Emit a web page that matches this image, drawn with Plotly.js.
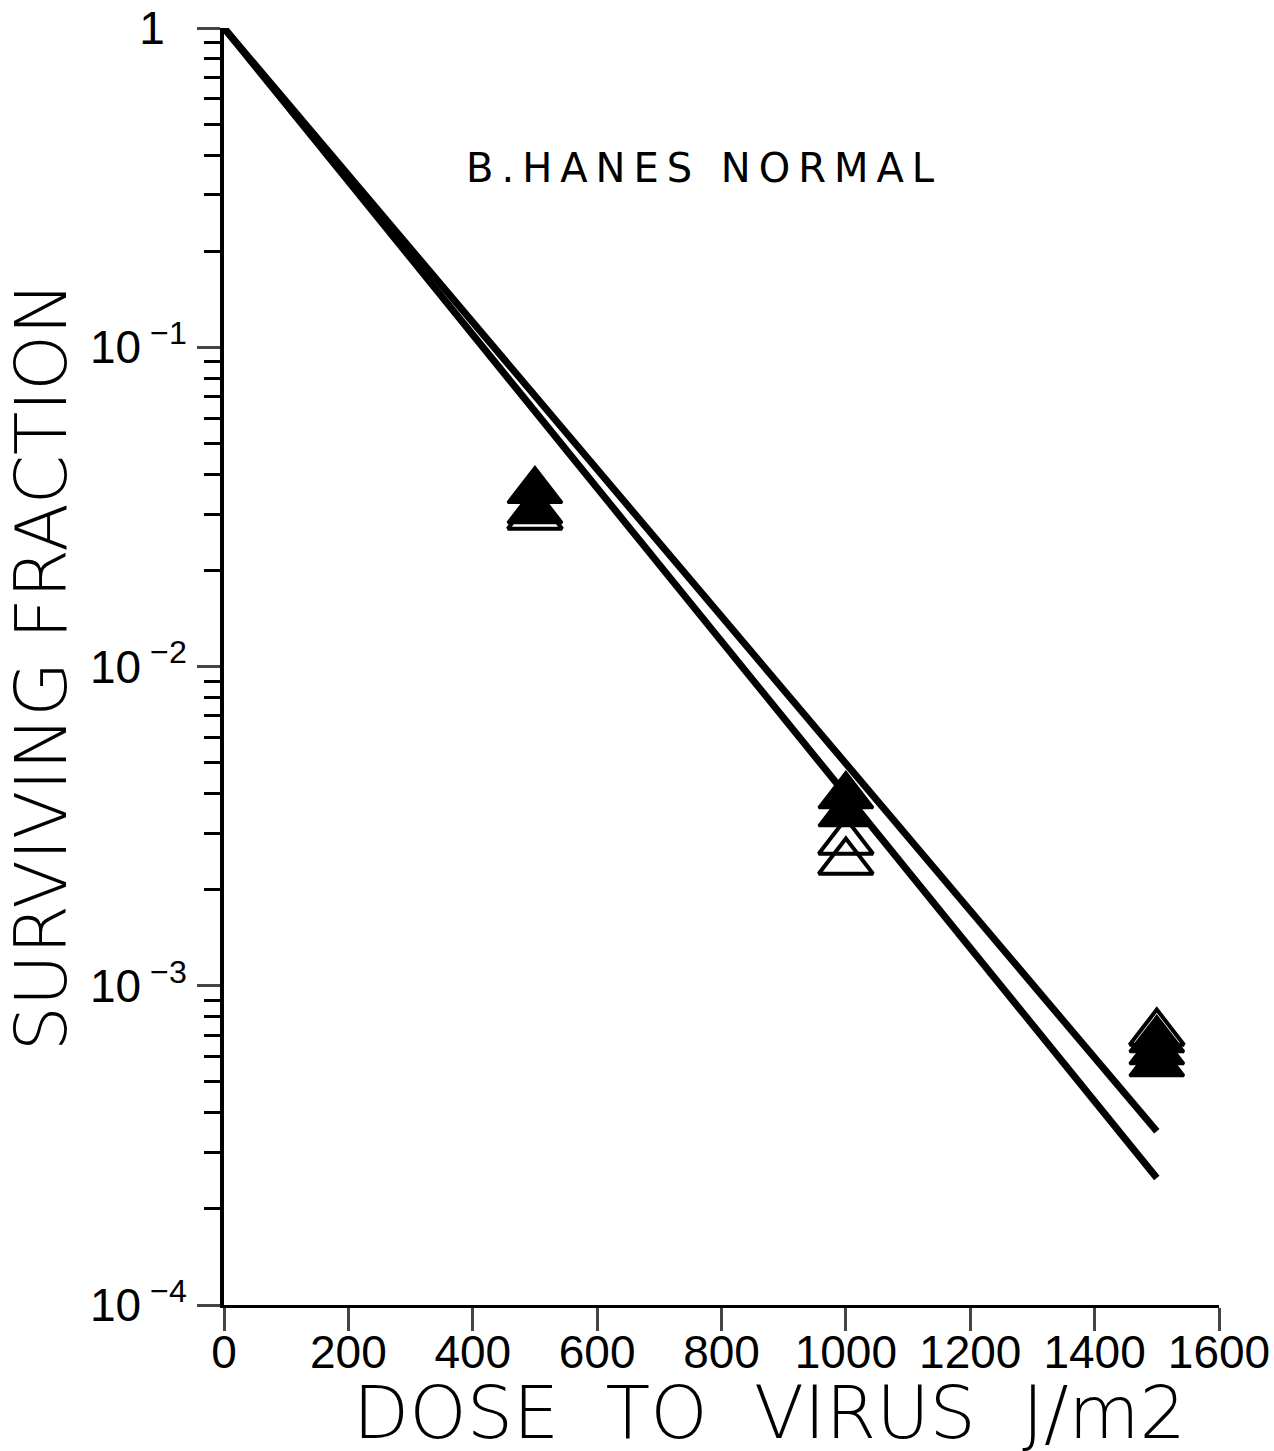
<!DOCTYPE html>
<html><head><meta charset="utf-8">
<script src="https://cdn.plot.ly/plotly-3.0.1.min.js"></script>
<style>body{margin:0;background:#fff}#chart{width:1274px;height:1451px}</style>
</head><body><div id="chart"></div>
<script>
// Fitted survival lines
const lineA_x = [0, 1500];
const lineA_y = [1, 3.5e-4];
const lineB_x = [0, 1500];
const lineB_y = [1, 2.5e-4];
// Data points (filled and open triangles)
const filled_x = [500, 500, 1000, 1000, 1500, 1500, 1500];
const filled_y = [0.0355, 0.0307, 0.00393, 0.00345, 0.000676, 0.000620, 0.000569];
const open_x = [500, 1000, 1000, 1500];
const open_y = [0.0294, 0.00282, 0.00244, 0.000711];
// Tick labels
const ytickvals = [1, 0.1, 0.01, 0.001, 0.0001];
const yticktext = ['1\u00a0\u2009', '10<sup> −1</sup>', '10<sup> −2</sup>', '10<sup> −3</sup>', '10<sup> −4</sup>'];
const xtickvals = [0, 200, 400, 600, 800, 1000, 1200, 1400, 1600];

const lineStyle = {color: '#000', width: 7};
const traces = [
  {x: lineA_x, y: lineA_y, mode: 'lines', line: lineStyle, hoverinfo: 'skip'},
  {x: lineB_x, y: lineB_y, mode: 'lines', line: lineStyle, hoverinfo: 'skip'},
  {x: open_x, y: open_y, mode: 'markers', marker: {symbol: 'triangle-up-open', size: 47, color: '#000', line: {width: 4, color: '#000'}}},
  {x: filled_x, y: filled_y, mode: 'markers', marker: {symbol: 'triangle-up', size: 47, color: '#000', line: {width: 3, color: '#000'}}}
];

const tickFont = {family: 'Liberation Sans, Arial, sans-serif', size: 46, color: '#000'};
const layout = {
  width: 1274, height: 1451,
  margin: {l: 224, r: 55, t: 28, b: 146},
  paper_bgcolor: '#fff', plot_bgcolor: '#fff',
  showlegend: false,
  xaxis: {
    range: [0, 1600], tickvals: xtickvals, ticks: 'outside', ticklen: 23, tickwidth: 3,
    showgrid: false, zeroline: false, showline: true, linewidth: 3, linecolor: '#000',
    tickfont: tickFont, ticklabelstandoff: -18
  },
  yaxis: {
    type: 'log', range: [-4, 0], tickvals: ytickvals, ticktext: yticktext,
    ticks: 'outside', ticklen: 23, tickwidth: 3,
    minor: {ticks: 'outside', ticklen: 16, tickwidth: 3, dtick: 'D1', tickcolor: '#000', showgrid: false},
    showgrid: false, zeroline: false, showline: true, linewidth: 4, linecolor: '#000',
    tickfont: tickFont, ticklabelstandoff: 1,
    title: {text: 'SURVIVING FRACTION', font: {family: 'DejaVu Sans, sans-serif', size: 71, weight: 200, color: '#000'}, standoff: 1}
  },
  annotations: [
    {text: 'B\u2009.\u2009H\u2009A\u2009N\u2009E\u2009S\u2009 \u2009N\u2009O\u2009R\u2009M\u2009A\u2009L', xref: 'paper', yref: 'paper', x: 0.479, y: 0.910, showarrow: false,
     font: {family: 'DejaVu Sans, sans-serif', size: 40, color: '#000'}},
    {text: 'DOSE  TO  VIRUS  J/m2', xref: 'paper', yref: 'paper', x: 0.5487, y: -0.084, yanchor: 'middle', showarrow: false,
     font: {family: 'DejaVu Sans, sans-serif', size: 73, weight: 200, color: '#000'}}
  ]
};
Plotly.newPlot('chart', traces, layout, {displayModeBar: false, staticPlot: true});
</script></body></html>
